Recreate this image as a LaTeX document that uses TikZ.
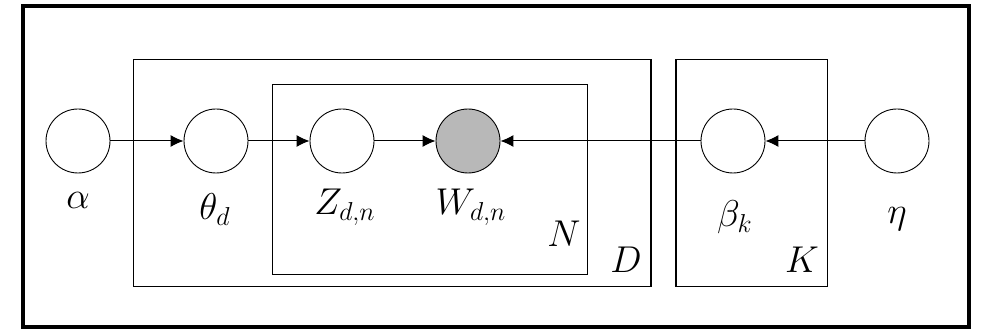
\documentclass[tikz,border=0pt]{standalone}
\usepackage{amsmath,amssymb}
\usepackage{xcolor}
\usepackage{tikz}
\usetikzlibrary{arrows.meta,positioning}

\newcommand{\lab}[1]{\scalebox{1.08}{\LARGE$#1$}}

\begin{document}
\begin{tikzpicture}[
			x=0.5pt,
			y=-0.5pt,
			var/.style={circle,draw,line width=.45pt,minimum size=32pt,inner sep=0pt},
			obs/.style={var,fill=black!28},
			plate/.style={draw,line width=.7pt},
			lbl/.style={anchor=base,inner sep=0pt},
			edge/.style={-{Latex[length=6.5pt,width=6pt]},line width=.5pt}
			]
			\useasboundingbox (0,0) rectangle (987,330);
			
			% outer frame
			\draw[line width=2pt] (23,5.7) rectangle (969,327);
			
			%------------------------------
			% Plates
			%------------------------------
			\draw[plate] (133.7,59.3) rectangle (651,286.7);
			\draw[plate] (272.7,84.7) rectangle (587.7,274.3);
			\draw[plate] (676,59.3) rectangle (827.3,286.7);
			\node[lbl] (name_N) at (564,246.7) {\lab{N}};
			\node[lbl] (name_D) at (626,273) {\lab{D}};
			\node[lbl] (name_K) at (802,273) {\lab{K}};
			
			%------------------------------
			% Variables
			%------------------------------
			\node[var] (alpha) at (78,141) {};
			\node[var] (theta) at (216,141) {};
			\node[var] (z) at (342,141) {};
			\node[obs] (w) at (468,141) {};
			\node[var] (beta) at (733,141) {};
			\node[var] (eta) at (897,141) {};
			
			\node[lbl] (name_alpha) at (78,209) {\lab{\alpha}};
			\node[lbl] (name_theta) at (215,220) {\lab{\theta_d}};
			\node[lbl] (name_z) at (345,215) {\lab{Z_{d,n}}};
			\node[lbl] (name_w) at (471,215) {\lab{W_{d,n}}};
			\node[lbl] (name_beta) at (735,227) {\lab{\beta_k}};
			\node[lbl] (name_eta) at (897,224) {\lab{\eta}};
			
			%------------------------------
			% Edges
			%------------------------------
			\draw[edge] (alpha) -- (theta);
			\draw[edge] (theta) -- (z);
			\draw[edge] (z) -- (w);
			\draw[edge] (beta) -- (w);
			\draw[edge] (eta) -- (beta);
		\end{tikzpicture}
\end{document}
